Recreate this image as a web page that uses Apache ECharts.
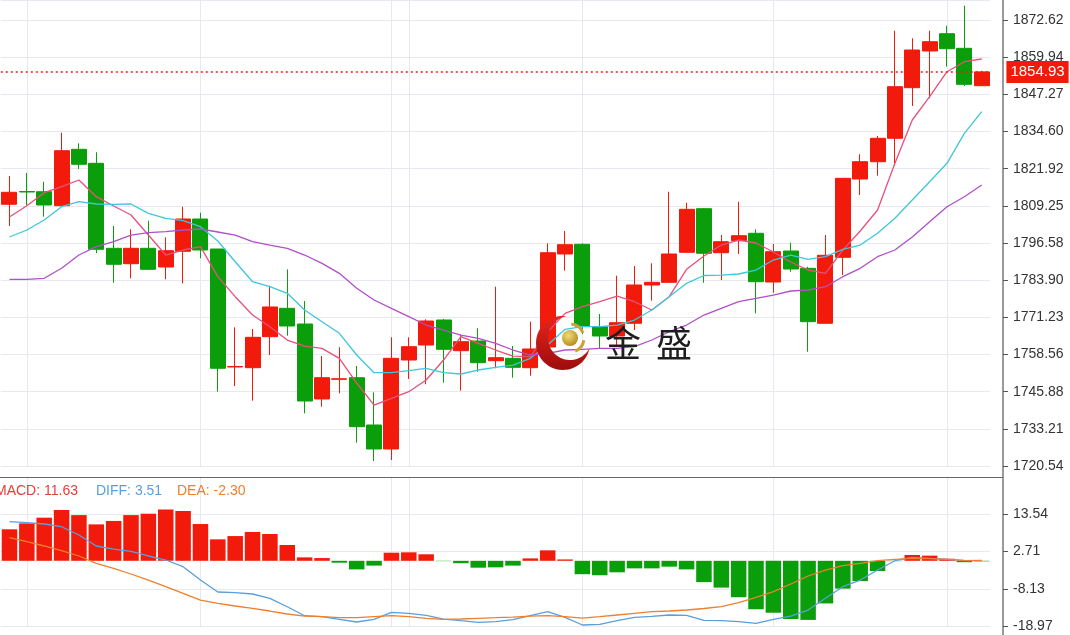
<!DOCTYPE html>
<html><head><meta charset="utf-8">
<script src="https://cdn.jsdelivr.net/npm/echarts@6/dist/echarts.min.js"></script>
<style>html,body{margin:0;padding:0;background:#fff;overflow:hidden}#c{width:1070px;height:635px}</style>
</head><body><div id="c"></div><script>
const categories = ['1','2','3','4','5','6','7','8','9','10','11','12','13','14','15','16','17','18','19','20','21','22','23','24','25','26','27','28','29','30','31','32','33','34','35','36','37','38','39','40','41','42','43','44','45','46','47','48','49','50','51','52','53','54','55','56','57'];
const opens = [1809.78,1814.14,1814.07,1809.30,1828.53,1823.76,1794.77,1789.52,1794.77,1788.40,1793.75,1804.76,1794.53,1754.30,1754.06,1764.63,1774.31,1768.96,1743.39,1750.10,1750.65,1734.52,1726.34,1756.68,1761.80,1770.32,1759.86,1763.16,1756.45,1757.26,1754.06,1761.12,1792.83,1796.14,1768.04,1764.87,1769.20,1782.26,1783.18,1793.41,1808.28,1793.27,1797.36,1799.89,1783.28,1793.85,1787.95,1769.20,1791.70,1818.40,1824.30,1832.28,1849.54,1862.05,1867.95,1862.97,1850.22];
const closes = [1813.87,1813.97,1809.54,1828.05,1823.42,1794.43,1789.32,1794.77,1787.61,1793.95,1804.76,1794.19,1753.86,1754.47,1764.42,1774.76,1768.28,1742.70,1750.65,1750.27,1733.94,1726.34,1757.26,1761.22,1769.98,1760.33,1762.93,1755.76,1757.47,1754.20,1760.44,1793.27,1796.00,1768.28,1764.87,1769.40,1782.26,1783.18,1792.83,1808.07,1793.07,1797.02,1799.07,1783.38,1793.61,1787.71,1769.75,1792.39,1818.64,1824.30,1832.28,1849.88,1862.39,1865.22,1862.83,1850.69,1854.93];
const lows = [1802.38,1809.54,1805.55,1809.20,1821.81,1793.17,1783.04,1784.54,1787.37,1784.20,1782.84,1791.36,1745.88,1747.82,1742.81,1758.39,1764.97,1738.51,1740.76,1745.33,1728.49,1722.25,1722.59,1750.21,1748.40,1748.94,1746.22,1752.69,1753.86,1750.65,1751.33,1760.78,1787.14,1765.55,1760.67,1761.22,1766.91,1776.91,1783.11,1793.41,1783.04,1783.96,1792.83,1772.61,1779.63,1786.79,1759.51,1769.20,1785.67,1812.95,1819.53,1822.94,1843.30,1845.92,1856.70,1850.12,1850.22];
const highs = [1819.43,1820.45,1817.48,1834.19,1830.58,1827.51,1802.38,1801.25,1804.18,1798.52,1808.96,1806.91,1794.53,1767.83,1767.26,1782.02,1787.61,1776.80,1758.05,1761.02,1754.64,1745.67,1764.42,1764.42,1770.56,1770.67,1765.45,1767.49,1781.68,1761.46,1769.75,1796.48,1800.67,1796.48,1772.37,1785.43,1788.74,1789.66,1814.07,1810.32,1808.51,1799.31,1810.66,1801.25,1796.24,1796.68,1788.50,1799.31,1818.64,1826.83,1833.07,1868.97,1866.38,1868.97,1870.68,1877.50,1855.30];
const ma5 = [1805.44,1809.30,1813.73,1815.78,1818.06,1812.37,1809.19,1806.12,1799.30,1792.48,1794.19,1795.32,1785.09,1778.27,1772.02,1768.04,1763.50,1761.45,1760.67,1757.26,1748.84,1741.33,1743.62,1745.87,1749.86,1756.68,1764.63,1762.37,1760.09,1758.04,1757.81,1766.33,1772.60,1774.86,1776.56,1778.50,1776.56,1773.73,1778.27,1787.61,1792.14,1795.89,1797.60,1796.58,1793.51,1790.10,1787.37,1786.24,1794.19,1800.67,1807.83,1823.75,1838.52,1846.47,1854.99,1858.40,1859.32];
const ma10 = [1798.62,1801.01,1804.42,1808.96,1810.66,1809.88,1809.77,1809.88,1806.70,1805.00,1804.18,1802.14,1797.26,1790.20,1783.38,1781.68,1779.42,1773.73,1769.74,1765.78,1758.38,1752.35,1752.35,1753.03,1753.85,1752.35,1751.91,1753.27,1754.19,1754.97,1757.26,1761.79,1767.15,1768.04,1768.04,1768.61,1770.32,1773.73,1778.27,1782.83,1785.49,1785.66,1786.01,1787.37,1790.78,1792.48,1791.02,1791.91,1794.43,1795.89,1799.88,1805.00,1811.24,1817.48,1823.75,1833.98,1841.35];
const ma20 = [1784.20,1784.20,1784.54,1787.95,1792.48,1795.32,1797.02,1799.30,1800.09,1800.43,1801.01,1801.35,1800.33,1799.30,1797.02,1795.89,1794.77,1792.48,1789.65,1786.24,1781.13,1777.14,1774.31,1771.45,1768.61,1766.91,1765.20,1764.08,1762.37,1760.09,1758.38,1758.96,1760.09,1760.33,1760.67,1760.67,1761.22,1763.50,1766.33,1768.61,1772.02,1774.31,1776.56,1777.72,1778.84,1780.21,1780.55,1781.68,1785.09,1787.95,1791.91,1794.19,1798.62,1803.84,1808.96,1812.37,1816.35];
const macdHist = [9.17,10.9,12.55,14.8,13.3,10.6,11.6,13.3,13.7,14.9,14.5,10.7,6.25,7.2,8.4,7.8,4.6,1.0,0.8,-0.55,-2.5,-1.4,2.36,2.47,1.9,-0.1,-0.7,-2.0,-1.9,-1.4,0.7,3.05,0.4,-3.9,-4.2,-3.35,-2.2,-2.2,-1.7,-2.5,-6.2,-7.8,-10.6,-14.1,-15.1,-16.9,-17.2,-12.4,-8.1,-5.9,-2.97,-0.1,1.7,1.5,0.6,-0.4,-0.15];
const diff = [11.38,11.09,10.71,9.92,7.51,4.31,3.43,2.76,1.40,0.23,-1.72,-5.59,-9.08,-9.28,-9.66,-10.91,-13.36,-15.98,-16.27,-17.03,-17.81,-17.03,-14.99,-15.28,-15.86,-16.94,-17.43,-17.90,-17.72,-17.14,-15.98,-14.81,-16.44,-18.68,-18.48,-17.43,-16.44,-16.15,-15.77,-15.86,-17.32,-17.43,-17.72,-18.19,-17.03,-16.07,-14.32,-10.91,-7.54,-5.59,-2.68,0.03,1.02,0.73,0.44,0.03,0.15];
const dea = [6.72,5.56,4.31,2.94,1.40,-0.73,-2.18,-3.84,-5.59,-7.54,-9.46,-11.41,-12.37,-13.15,-13.82,-14.61,-15.48,-16.07,-16.27,-16.56,-16.56,-16.27,-15.98,-16.27,-16.73,-17.03,-16.94,-16.73,-16.56,-16.36,-16.07,-15.98,-16.27,-16.65,-16.27,-15.77,-15.28,-14.81,-14.61,-14.32,-13.88,-13.36,-12.19,-10.62,-8.99,-6.75,-4.42,-2.68,-1.43,-0.73,0.03,0.44,0.73,0.61,0.44,0.15,0.03];
const mainTickLabels = ['1720.54','1733.21','1745.88','1758.56','1771.23','1783.90','1796.58','1809.25','1821.92','1834.60','1847.27','1859.94','1872.62'];
const macdTickLabels = ['-18.97','-8.13','2.71','13.54'];
const lastPrice = 1854.93;
const macdLegend = ['MACD: 11.63', 'DIFF: 3.51', 'DEA: -2.30'];
const dividerCats = ['2','12','23','24','34','45','55'];

const RED = '#f21a0a', GREEN = '#0a9f0a';
const mainMin = parseFloat(mainTickLabels[0]);
const mainInt = (parseFloat(mainTickLabels[mainTickLabels.length-1]) - mainMin) / (mainTickLabels.length - 1);
const macdMin = parseFloat(macdTickLabels[0]);
const macdInt = (parseFloat(macdTickLabels[macdTickLabels.length-1]) - macdMin) / (macdTickLabels.length - 1);
function labelFor(list, min, step) {
  return function (v) {
    const i = Math.round((v - min) / step);
    if (i < 0 || i >= list.length || Math.abs(v - (min + i * step)) > 0.01) return '';
    return list[i];
  };
}
const candleData = opens.map((o, i) => [o, closes[i], lows[i], highs[i]]);
const gridLineStyle = {color: '#e6eaf0', width: 1, type: 'solid'};
function divMark() {
  return {
    silent: true, symbol: ['none', 'none'], z: 1,
    label: {show: false}, lineStyle: gridLineStyle, emphasis: {disabled: true},
    data: dividerCats.map(c => ({xAxis: c}))
  };
}
const FONT = 'Liberation Sans, Arial, sans-serif';
const axisFont = {color: '#333', fontSize: 14, fontFamily: FONT};

// logo crescent outline (decoration only)
function crescent() {
  const pts = [];
  const a0 = Math.atan2(-26.75, 3.70), a1 = Math.atan2(5.19, 26.50) - 2 * Math.PI;
  for (let k = 0; k <= 40; k++) { const a = a0 + (a1 - a0) * k / 40; pts.push([27 * Math.cos(a), 27 * Math.sin(a)]); }
  const b0 = Math.atan2(10.19, 19.50), b1 = Math.atan2(-21.75, -3.30) + 2 * Math.PI;
  for (let k = 0; k <= 40; k++) { const a = b0 + (b1 - b0) * k / 40; pts.push([7 + 22 * Math.cos(a), -5 + 22 * Math.sin(a)]); }
  return pts;
}

const chart = echarts.init(document.getElementById('c'));
chart.setOption({
  animation: false,
  backgroundColor: '#fff',
  grid: [
    {left: 0.8, right: 79.6, top: 0, bottom: 169},
    {left: 0.8, right: 79.6, top: 477.3, bottom: 9}
  ],
  xAxis: [
    {type: 'category', gridIndex: 0, data: categories, boundaryGap: true,
     axisLine: {show: false}, axisTick: {show: false}, axisLabel: {show: false}, splitLine: {show: false}},
    {type: 'category', gridIndex: 1, data: categories, boundaryGap: true,
     axisLine: {show: false}, axisTick: {show: false}, axisLabel: {show: false}, splitLine: {show: false}}
  ],
  yAxis: [
    {type: 'value', gridIndex: 0, position: 'right', offset: 12.6,
     min: mainMin, max: 1879.44, interval: mainInt,
     axisLine: {show: false}, axisTick: {show: true, length: 5, lineStyle: {color: '#555'}},
     axisLabel: Object.assign({margin: 10, showMaxLabel: false, formatter: labelFor(mainTickLabels, mainMin, mainInt)}, axisFont),
     splitLine: {show: true, lineStyle: gridLineStyle}},
    {type: 'value', gridIndex: 1, position: 'right', offset: 12.6,
     min: macdMin, max: 24.3, interval: macdInt,
     axisLine: {show: false}, axisTick: {show: true, length: 5, lineStyle: {color: '#555'}},
     axisLabel: Object.assign({margin: 10, showMaxLabel: false, formatter: labelFor(macdTickLabels, macdMin, macdInt)}, axisFont),
     splitLine: {show: true, lineStyle: gridLineStyle}}
  ],
  series: [
    {type: 'line', xAxisIndex: 0, yAxisIndex: 0, data: [], z: 1, markLine: divMark()},
    {type: 'line', xAxisIndex: 1, yAxisIndex: 1, data: [], z: 1, markLine: divMark()},
    {type: 'candlestick', xAxisIndex: 0, yAxisIndex: 0, data: candleData, barWidth: 15.5, z: 2,
     itemStyle: {color: RED, color0: GREEN, borderColor: RED, borderColor0: GREEN, borderWidth: 1},
     markLine: {
       silent: true, symbol: ['none', 'none'], z: 6,
       lineStyle: {color: '#ee1c1c', type: [2, 3], width: 1.5},
       label: {show: true, position: 'end', distance: 16, formatter: String(lastPrice),
               color: '#fff', backgroundColor: RED, padding: [4, 4, 3, 4],
               fontSize: 15, fontFamily: FONT},
       data: [{yAxis: lastPrice}]
     }},
    {type: 'line', name: 'MA5', xAxisIndex: 0, yAxisIndex: 0, data: ma5, symbol: 'none', z: 3,
     lineStyle: {color: '#e8507c', width: 1.3}},
    {type: 'line', name: 'MA10', xAxisIndex: 0, yAxisIndex: 0, data: ma10, symbol: 'none', z: 3,
     lineStyle: {color: '#3ec6da', width: 1.3}},
    {type: 'line', name: 'MA20', xAxisIndex: 0, yAxisIndex: 0, data: ma20, symbol: 'none', z: 3,
     lineStyle: {color: '#b050c8', width: 1.3}},
    {type: 'bar', name: 'MACD', xAxisIndex: 1, yAxisIndex: 1, data: macdHist, barWidth: 15.5, z: 2,
     itemStyle: {color: p => p.value >= 0 ? RED : GREEN}},
    {type: 'line', name: 'DIFF', xAxisIndex: 1, yAxisIndex: 1, data: diff, symbol: 'none', z: 3,
     lineStyle: {color: '#5a9fdc', width: 1.3}},
    {type: 'line', name: 'DEA', xAxisIndex: 1, yAxisIndex: 1, data: dea, symbol: 'none', z: 3,
     lineStyle: {color: '#ef7f2c', width: 1.3}}
  ],
  graphic: [
    {type: 'line', z: 50, silent: true, shape: {x1: 1003, y1: 0, x2: 1003, y2: 635}, style: {stroke: '#555', lineWidth: 1.2}},
    {type: 'line', z: 50, silent: true, shape: {x1: 0, y1: 477.5, x2: 1003, y2: 477.5}, style: {stroke: '#666', lineWidth: 1.2}},
    {type: 'text', z: 50, silent: true, x: -5, y: 491, style: {text: macdLegend[0], fill: '#e5403a', fontSize: 14, fontFamily: FONT, verticalAlign: 'middle'}},
    {type: 'text', z: 50, silent: true, x: 96, y: 491, style: {text: macdLegend[1], fill: '#5a9fdc', fontSize: 14, fontFamily: FONT, verticalAlign: 'middle'}},
    {type: 'text', z: 50, silent: true, x: 177, y: 491, style: {text: macdLegend[2], fill: '#ef7f2c', fontSize: 14, fontFamily: FONT, verticalAlign: 'middle'}},
    {type: 'group', x: 563, y: 343, z: 60, silent: true, children: [
      {type: 'polygon', z: 60, shape: {points: crescent()},
       style: {fill: {type: 'linear', x: 0, y: 0, x2: 0, y2: 1, colorStops: [{offset: 0, color: '#e8251c'}, {offset: 1, color: '#9c0c0c'}]}}},
      {type: 'circle', z: 61, shape: {cx: 7, cy: -5, r: 8},
       style: {fill: {type: 'radial', x: 0.4, y: 0.35, r: 0.7, colorStops: [{offset: 0, color: '#f3dd7a'}, {offset: 1, color: '#b08a1a'}]}}},
      {type: 'arc', z: 61, shape: {cx: 7, cy: -5, r: 14, startAngle: -Math.PI * 0.47, endAngle: -Math.PI * 0.12}, style: {stroke: '#c9a23a', lineWidth: 3, fill: null}},
      {type: 'arc', z: 61, shape: {cx: 7, cy: -5, r: 14, startAngle: Math.PI * 0.05, endAngle: Math.PI * 0.38}, style: {stroke: '#c9a23a', lineWidth: 3, fill: null}}
    ]},
    {type: 'text', z: 60, silent: true, x: 605, y: 343, style: {text: '金', fill: '#1e1e1e', fontSize: 36, fontFamily: 'Noto Sans CJK SC', verticalAlign: 'middle'}},
    {type: 'text', z: 60, silent: true, x: 656, y: 343, style: {text: '盛', fill: '#1e1e1e', fontSize: 36, fontFamily: 'Noto Sans CJK SC', verticalAlign: 'middle'}}
  ]
});
</script></body></html>
